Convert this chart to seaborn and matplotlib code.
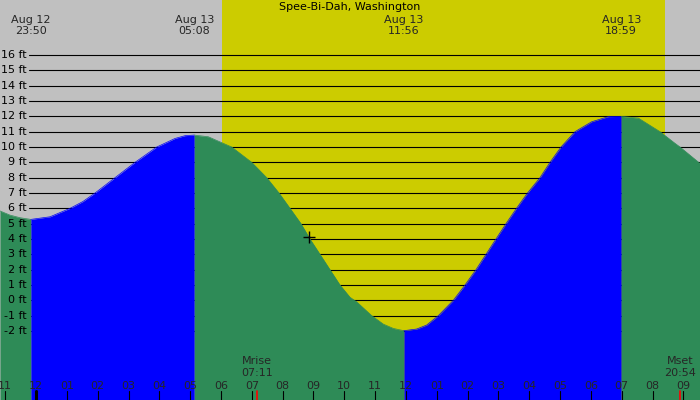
import matplotlib
matplotlib.use("Agg")
import matplotlib.pyplot as plt
import matplotlib.transforms as mtransforms
import seaborn as sns
import numpy as np

# Tide heights (hours from midnight Aug 13, feet)
tide_hours = [-1.168, -0.843, -0.519, -0.167,
              0.454, 1.103, 1.524, 1.914, 2.562, 3.211, 3.915, 4.509, 4.833, 5.133,
              5.589, 6.348, 6.997, 7.483, 7.882, 8.239, 8.595, 8.887, 9.212, 9.536,
              9.860, 10.185, 10.402, 10.889, 11.265, 11.589, 11.933,
              12.348, 12.673, 13.049, 13.536, 13.915, 14.272, 14.596, 14.920, 15.245,
              15.585, 15.942, 16.348, 16.672, 17.029, 17.483, 18.025, 18.563, 18.983,
              19.536, 20.240, 20.727, 20.889, 21.537]
tide_ft = [5.83, 5.56, 5.39, 5.28,
           5.45, 6.0, 6.45, 7.0, 8.0, 9.0, 10.0, 10.56, 10.74, 10.78,
           10.67, 10.0, 9.0, 8.0, 7.0, 6.0, 5.0, 4.0, 3.0, 2.0,
           1.0, 0.2, -0.1, -1.0, -1.55, -1.83, -1.98,
           -1.87, -1.61, -1.0, 0.0, 1.0, 2.0, 3.0, 4.0, 5.0,
           6.0, 7.0, 8.0, 9.0, 10.0, 11.0, 11.65, 11.98, 12.0,
           11.89, 11.0, 10.24, 10.0, 8.93]

# high / low tides
extreme_hours = [-0.167, 5.133, 11.933, 18.983]
extreme_dates = ["Aug 12", "Aug 13", "Aug 13", "Aug 13"]
extreme_times = ["23:50", "05:08", "11:56", "18:59"]

# sun and moon
sunrise, sunset = 6.03, 20.40
moon_hours = [7.18, 20.90]
moon_names = ["Mrise", "Mset"]
moon_times = ["07:11", "20:54"]

# current time marker
now_hour, now_ft = 8.86, 4.1

hour_ticks = list(range(-1, 22))
hour_labels = ["11", "12", "01", "02", "03", "04", "05", "06", "07", "08", "09",
               "10", "11", "12", "01", "02", "03", "04", "05", "06", "07", "08", "09"]
levels = list(range(-2, 17))

sns.set_theme(style="white")
plt.rcParams["font.family"] = ["DejaVu Sans"]

fig = plt.figure(figsize=(7, 4), dpi=100)
ax = fig.add_axes([0, 0, 1, 1])
ax.set_facecolor("#c0c0c0")
ax.set_xlim(-1.168, 21.537)
ax.set_ylim(-6.50, 19.59)
for s in ax.spines.values():
    s.set_visible(False)
ax.set_xticks([])
ax.set_yticks([])

trans = mtransforms.blended_transform_factory(ax.transData, ax.transAxes)
trans_y = mtransforms.blended_transform_factory(ax.transAxes, ax.transData)

# daylight
ax.axvspan(sunrise, sunset, color="#cccc00", zorder=0.5, lw=0)

# level lines and labels
for lv in levels:
    ax.axhline(lv, xmin=29 / 700, xmax=1, color="black", lw=0.8, zorder=1)
    ax.text(27 / 700, lv, f"{lv} ft", transform=trans_y, ha="right", va="center",
            fontsize=8, color="black", zorder=5)

# tide fill: blue while rising, green while falling
t = np.array(tide_hours)
h = np.array(tide_ft)
bounds = [t[0]] + extreme_hours + [t[-1]]
rising = False
for a, b in zip(bounds[:-1], bounds[1:]):
    m = (t >= a - 1e-9) & (t <= b + 1e-9)
    col = "#0000ff" if rising else "#2e8b57"
    ax.fill_between(t[m], h[m], -7, color=col, lw=0, zorder=2)
    sns.lineplot(x=t[m], y=h[m], color=col, lw=0.5, ax=ax, zorder=2.5)
    rising = not rising

sns.scatterplot(x=[now_hour], y=[now_ft], marker="+", s=70, color="black",
                linewidth=1, ax=ax, zorder=6)

# top labels
ax.text(0.5, 1 - 7 / 400, "Spee-Bi-Dah, Washington", transform=ax.transAxes,
        ha="center", va="center", fontsize=8, color="black")
for x, d, tm in zip(extreme_hours, extreme_dates, extreme_times):
    ax.text(x, 1 - 20 / 400, d, transform=trans, ha="center", va="center", fontsize=8)
    ax.text(x, 1 - 31.5 / 400, tm, transform=trans, ha="center", va="center", fontsize=8)

# hour ticks and labels
for x, lab in zip(hour_ticks, hour_labels):
    ax.text(x, 14 / 400, lab, transform=trans, ha="center", va="center", fontsize=8)
    ax.axvline(x, ymin=0, ymax=9 / 400, color="black",
               lw=2.2 if x == 0 else 0.8, zorder=6)

# moon rise / set
for x, n, tm in zip(moon_hours, moon_names, moon_times):
    ax.text(x, 1 - 361.5 / 400, n, transform=trans, ha="center", va="center", fontsize=8)
    ax.text(x, 1 - 373.5 / 400, tm, transform=trans, ha="center", va="center", fontsize=8)
    ax.axvline(x, ymin=0, ymax=9 / 400, color="red", lw=1.2, zorder=6)

fig.savefig("out.png", dpi=100)
